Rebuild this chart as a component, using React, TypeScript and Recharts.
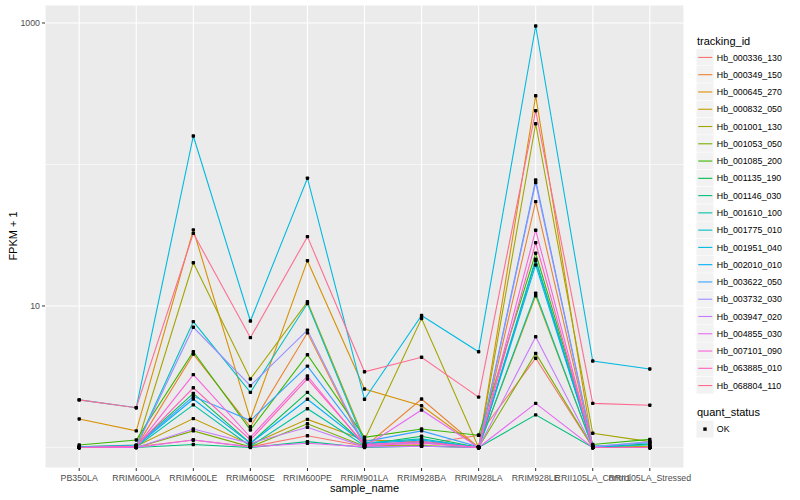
import React from 'react';
import { LineChart, Line, XAxis, YAxis, CartesianGrid } from 'recharts';

const categories = [
  'PB350LA', 'RRIM600LA', 'RRIM600LE', 'RRIM600SE', 'RRIM600PE', 'RRIM901LA',
  'RRIM928BA', 'RRIM928LA', 'RRIM928LE', 'RRII105LA_Control', 'RRII105LA_Stressed',
];

const seriesIds = [
  'Hb_000336_130', 'Hb_000349_150', 'Hb_000645_270', 'Hb_000832_050', 'Hb_001001_130',
  'Hb_001053_050', 'Hb_001085_200', 'Hb_001135_190', 'Hb_001146_030', 'Hb_001610_100',
  'Hb_001775_010', 'Hb_001951_040', 'Hb_002010_010', 'Hb_003622_050', 'Hb_003732_030',
  'Hb_003947_020', 'Hb_004855_030', 'Hb_007101_090', 'Hb_063885_010', 'Hb_068804_110',
];

const seriesColors = [
  '#F8766D', '#EA8331', '#D89000', '#C09B00', '#A3A500', '#7CAE00', '#39B600', '#00BB4E',
  '#00BF7D', '#00C1A3', '#00BFC4', '#00BAE0', '#00B0F6', '#35A2FF', '#9590FF', '#C77CFF',
  '#E76BF3', '#FA62DB', '#FF62BC', '#FF6C91',
];

// values are FPKM + 1, one per category
const hb000336_130 = [1.0, 1.01, 1.13, 1.01, 1.21, 1.02, 1.05, 1.22, 4.27, 1.0, 1.0];
const hb000349_150 = [1.0, 1.01, 4.57, 1.4, 6.46, 1.01, 2.2, 1.0, 54.6, 1.0, 1.0];
const hb000645_270 = [1.59, 1.31, 34.5, 1.58, 20.9, 2.59, 1.97, 1.0, 306, 1.0, 1.02];
const hb000832_050 = [1.0, 1.02, 1.6, 1.05, 1.58, 1.13, 1.1, 1.01, 11.8, 1.01, 1.0];
const hb001001_130 = [1.0, 1.01, 20.2, 3.05, 10.7, 1.13, 8.16, 1.0, 194, 1.26, 1.1];
const hb001053_050 = [1.0, 1.0, 1.31, 1.01, 1.47, 1.02, 1.03, 1.0, 4.62, 1.0, 1.0];
const hb001085_200 = [1.04, 1.13, 4.75, 1.33, 4.52, 1.18, 1.35, 1.22, 23.6, 1.05, 1.14];
const hb001135_190 = [1.01, 1.04, 2.41, 1.07, 2.45, 1.05, 1.2, 1.0, 20.9, 1.0, 1.06];
const hb001146_030 = [1.0, 1.0, 1.05, 1.0, 1.1, 1.0, 1.02, 1.0, 1.7, 1.0, 1.0];
const hb001610_100 = [1.0, 1.01, 2.0, 1.02, 1.88, 1.03, 1.1, 1.0, 12.3, 1.0, 1.0];
const hb001775_010 = [1.0, 1.02, 7.75, 2.45, 10.4, 1.08, 1.15, 1.0, 21.4, 1.02, 1.04];
const hb001951_040 = [2.17, 1.91, 159, 7.83, 80, 2.19, 8.56, 4.75, 952, 4.08, 3.59];
const hb002010_010 = [1.0, 1.02, 2.2, 1.07, 2.19, 1.06, 1.13, 1.0, 19.5, 1.01, 1.0];
const hb003622_050 = [1.01, 1.03, 2.3, 1.55, 3.76, 1.1, 1.31, 1.01, 77.6, 1.02, 1.08];
const hb003732_030 = [1.0, 1.01, 7.07, 2.73, 6.75, 1.04, 1.08, 1.0, 74.4, 1.01, 1.1];
const hb003947_020 = [1.0, 1.0, 1.35, 1.07, 1.39, 1.01, 1.02, 1.0, 6.06, 1.0, 1.0];
const hb004855_030 = [1.0, 1.0, 1.13, 1.01, 1.07, 1.01, 1.84, 1.0, 2.05, 1.0, 1.0];
const hb007101_090 = [1.0, 1.01, 3.27, 1.18, 3.2, 1.03, 1.07, 1.0, 34.3, 1.0, 1.0];
const hb063885_010 = [1.0, 1.02, 2.64, 1.13, 3.05, 1.05, 1.1, 1.0, 28.0, 1.0, 1.0];
const hb068804_110 = [2.17, 1.91, 32.6, 5.97, 30.9, 3.43, 4.34, 2.27, 240, 2.05, 1.99];

const seriesValues = [
  hb000336_130, hb000349_150, hb000645_270, hb000832_050, hb001001_130,
  hb001053_050, hb001085_200, hb001135_190, hb001146_030, hb001610_100,
  hb001775_010, hb001951_040, hb002010_010, hb003622_050, hb003732_030,
  hb003947_020, hb004855_030, hb007101_090, hb063885_010, hb068804_110,
];

const yMajorTicks = [10, 1000];
const yMinorTicks = [1, 100];
const yDomain = [0.716, 1340];

const data = categories.map((c, i) => {
  const row: Record<string, any> = { sample_name: c };
  seriesIds.forEach((id, j) => {
    row[id] = seriesValues[j][i];
  });
  return row;
});

const FONT = '"Liberation Sans", Arial, Helvetica, sans-serif';

const Dot = (props: any) => {
  const { cx, cy } = props;
  if (cx == null || cy == null) return null;
  return <rect x={cx - 1.7} y={cy - 1.7} width={3.4} height={3.4} rx={0.8} fill="#000" />;
};

const Overlay = () => {
  const rowH = 17.27;
  const top0 = 48.8;
  return (
    <svg
      width={800}
      height={500}
      style={{ position: 'absolute', left: 0, top: 0, pointerEvents: 'none', fontFamily: FONT }}
    >
      <text x={13} y={236} transform="rotate(-90 13 236)" textAnchor="middle" dominantBaseline="central" fontSize={11} fill="#000">
        FPKM + 1
      </text>
      <text x={364.5} y={492} textAnchor="middle" fontSize={11} fill="#000">
        sample_name
      </text>
      <text x={697} y={44.5} fontSize={11} fill="#000">tracking_id</text>
      {seriesIds.map((id, i) => {
        const y = top0 + i * rowH;
        return (
          <g key={id}>
            <rect x={696.5} y={y} width={17} height={rowH - 0.6} fill="#F2F2F2" />
            <line x1={698.2} x2={712.3} y1={y + rowH / 2} y2={y + rowH / 2} stroke={seriesColors[i]} strokeWidth={1.1} />
            <text x={716.8} y={y + rowH / 2 + 3.1} fontSize={8.8} fill="#000">{id}</text>
          </g>
        );
      })}
      <text x={697} y={416} fontSize={11} fill="#000">quant_status</text>
      <rect x={696.5} y={420.6} width={17} height={17} fill="#F2F2F2" />
      <rect x={703.3} y={427.4} width={3.4} height={3.4} fill="#000" />
      <text x={716.8} y={432.2} fontSize={8.8} fill="#000">OK</text>
    </svg>
  );
};

export default function App() {
  return (
    <div style={{ position: 'absolute', left: 0, top: 0, width: 800, height: 500, background: '#fff' }}>
      <LineChart
        width={800}
        height={500}
        data={data}
        margin={{ top: 5, right: 116, bottom: 0, left: 0 }}
        style={{ fontFamily: FONT }}
      >
        <CartesianGrid fill="#EBEBEB" stroke="#FFFFFF" strokeWidth={1.1} />
        <CartesianGrid
          fill="none"
          stroke="#FFFFFF"
          strokeWidth={0.55}
          vertical={false}
          horizontalValues={yMinorTicks}
        />
        <XAxis
          dataKey="sample_name"
          padding={{ left: 34.2, right: 34.2 }}
          axisLine={false}
          tickLine={{ stroke: '#333333', strokeWidth: 1 }}
          tickSize={3}
          tickMargin={4}
          height={32}
          interval={0}
          tick={{ fontSize: 8.8, fill: '#4D4D4D', fontFamily: FONT }}
        />
        <YAxis
          type="number"
          scale="log"
          domain={yDomain}
          allowDataOverflow
          ticks={yMajorTicks}
          axisLine={false}
          tickLine={{ stroke: '#333333', strokeWidth: 1 }}
          tickSize={3}
          tickMargin={2}
          width={45}
          tick={{ fontSize: 8.8, fill: '#4D4D4D', fontFamily: FONT }}
        />
        {seriesIds.map((id, i) => (
          <Line
            key={'l' + id}
            dataKey={id}
            type="linear"
            stroke={seriesColors[i]}
            strokeWidth={1.1}
            dot={false}
            activeDot={false}
            isAnimationActive={false}
          />
        ))}
        {seriesIds.map((id) => (
          <Line
            key={'p' + id}
            dataKey={id}
            type="linear"
            stroke="none"
            dot={<Dot />}
            activeDot={false}
            legendType="none"
            isAnimationActive={false}
          />
        ))}
      </LineChart>
      <Overlay />
    </div>
  );
}
